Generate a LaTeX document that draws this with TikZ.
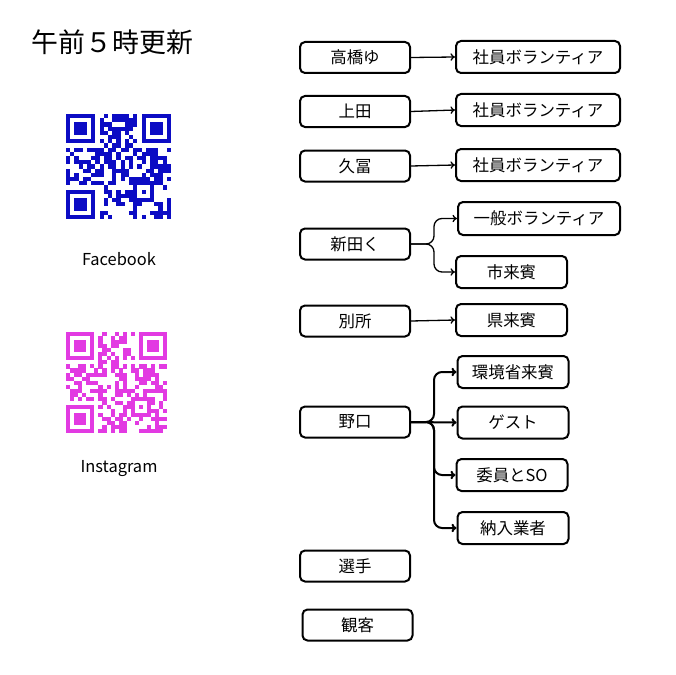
\documentclass[tikz,border=0pt]{standalone}
\usepackage{fontspec}
\setmainfont{Noto Sans CJK JP}
\usepackage{tikz}
\usetikzlibrary{arrows.meta,calc,positioning}
\definecolor{fbblue}{RGB}{12,12,196}
\definecolor{igpink}{RGB}{226,58,226}
\tikzset{%
	person/.style = {draw, rectangle, rounded corners=5bp, line width=2bp, minimum width=110bp, minimum height=31bp, inner sep=0pt, text centered, font=\fontsize{16.5}{19}\selectfont},
	role/.style   = {draw, rectangle, rounded corners=5bp, line width=2bp, minimum width=111bp, minimum height=32bp, inner sep=0pt, text centered, font=\fontsize{16.5}{19}\selectfont},
	wide/.style   = {role, minimum width=164bp},
	arrow/.style  = {line width=1.3bp, -{To[length=4.5bp,width=7.5bp]}},
	fat/.style    = {line width=2bp, -{To[length=5bp,width=8.5bp]}},
}
% QR-like pattern: #1 = top left, #2 = module size, #3 = colour, #4 = seed
\newcommand{\qrpattern}[4]{%
	\begin{scope}[shift={#1}, scale=#2, #3]
		\pgfmathsetseed{#4}
		\foreach \fx/\fy in {0/0,18/0,0/18}{
			\fill (\fx,\fy) rectangle ++(7,7);
			\fill[white] (\fx+1,\fy+1) rectangle ++(5,5);
			\fill (\fx+2,\fy+2) rectangle ++(3,3);
		}
		\fill (16,16) rectangle (21,21);
		\fill[white] (17,17) rectangle (20,20);
		\fill (18,18) rectangle (19,19);
		\foreach \t in {8,10,...,16}{
			\fill (\t,6) rectangle ++(1,1);
			\fill (6,\t) rectangle ++(1,1);
		}
		\foreach \i in {0,...,24}{
			\foreach \j in {0,...,24}{
				\pgfmathtruncatemacro\qrskip{((\i<8)&&(\j<8)) || ((\i>16)&&(\j<8)) || ((\i<8)&&(\j>16)) || ((\i>15)&&(\i<21)&&(\j>15)&&(\j<21)) || (\i==6) || (\j==6)}
				\ifnum\qrskip=0
					\pgfmathrandominteger{\qrbit}{0}{1}
					\ifnum\qrbit=1 \fill (\i,\j) rectangle ++(1.02,1.02); \fi
				\fi
			}
		}
	\end{scope}
}

\begin{document}
\begin{tikzpicture}[x=1bp, y=-1bp]
	\useasboundingbox[fill=white] (0,0) rectangle (675,675);

	\node[anchor=west, font=\fontsize{27}{32}\selectfont] (title) at (28,42) {午前５時更新};

	% QR codes
	\qrpattern{(66,114)}{4.2}{fbblue}{7}
	\node[font=\fontsize{16.5}{19}\selectfont] (fb) at (119,259) {Facebook};
	\qrpattern{(66,332)}{4.05}{igpink}{23}
	\node[font=\fontsize{16.5}{19}\selectfont] (ig) at (119,469) {Instagram};

	% people
	\node[person] (takahashi) at (355,57.5) {高橋ゆ};
	\node[person] (ueda)      at (355,111.5) {上田};
	\node[person] (kudomi)    at (355,166) {久冨};
	\node[person] (nitta)     at (355,244) {新田く};
	\node[person] (bessho)    at (355,321) {別所};
	\node[person] (noguchi)   at (355,422) {野口};
	\node[person] (senshu)    at (355,566) {選手};
	\node[person] (kankyaku)  at (357.5,625) {観客};

	% roles
	\node[wide] (staffa)  at (538,57)  {社員ボランティア};
	\node[wide] (staffb)  at (538,110) {社員ボランティア};
	\node[wide] (staffc)  at (538,165) {社員ボランティア};
	\node[wide, minimum width=162bp, minimum height=33bp] (ippan) at (539,218.5) {一般ボランティア};
	\node[role] (shi)     at (511.5,272) {市来賓};
	\node[role] (ken)     at (511.5,320) {県来賓};
	\node[role] (kankyo)  at (513,372) {環境省来賓};
	\node[role] (guest)   at (513,422.5) {ゲスト};
	\node[role] (iin)     at (512,475) {委員とSO};
	\node[role] (nonyu)   at (513,528) {納入業者};

	\draw[arrow] (takahashi.east) -- (staffa.west);
	\draw[arrow] (ueda.east) -- (staffb.west);
	\draw[arrow] (kudomi.east) -- (staffc.west);
	\draw[arrow, rounded corners=8bp] (nitta.east) -- ++(23,0) |- (ippan.west);
	\draw[arrow, rounded corners=8bp] (nitta.east) -- ++(23,0) |- (shi.west);
	\draw[arrow] (bessho.east) -- (ken.west);

	\draw[fat, rounded corners=8bp] (noguchi.east) -- ++(23,0) |- (kankyo.west);
	\draw[fat] (noguchi.east) -- (guest.west);
	\draw[fat, rounded corners=8bp] (noguchi.east) -- ++(23,0) |- (iin.west);
	\draw[fat, rounded corners=8bp] (noguchi.east) -- ++(23,0) |- (nonyu.west);
\end{tikzpicture}
\end{document}
